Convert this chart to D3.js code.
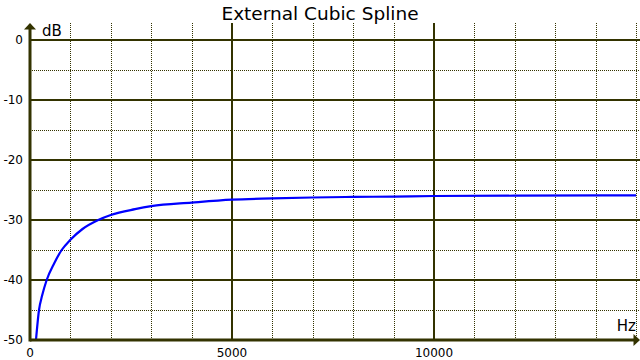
<!DOCTYPE html>
<html>
<head>
<meta charset="utf-8">
<script src="https://cdn.jsdelivr.net/npm/d3@7"></script>
<style>
html,body{margin:0;padding:0;background:#fff;}
svg{display:block;font-family:"DejaVu Sans",Verdana,sans-serif;}
</style>
</head>
<body>
<svg id="chart" width="640" height="360"></svg>
<script>
const title = "External Cubic Spline";
const xLabel = "Hz";
const yLabel = "dB";
const freqs = [148, 223, 300, 413, 600, 784, 1000, 1300, 1690, 2000, 2600, 3000, 4000, 5000, 6000, 7000, 8000, 9000, 10000, 12000, 15000];
const dbs   = [-50, -45, -42.6, -40, -37.2, -35, -33.3, -31.5, -30, -29.17, -28.2, -27.7, -27.1, -26.6, -26.4, -26.25, -26.15, -26.1, -26.0, -25.95, -25.9];
const xTicks = [0, 5000, 10000];
const xMinor = [1000, 2000, 3000, 4000, 6000, 7000, 8000, 9000, 11000, 12000, 13000, 14000, 15000];
const yTicks = [0, -10, -20, -30, -40, -50];
const yMinor = [-5, -15, -25, -35, -45];

const axisColor = "#333300";
const svg = d3.select("#chart");
const x = d3.scaleLinear().domain([0, 15000]).range([30, 636]);
const y = d3.scaleLinear().domain([-50, 0]).range([340, 40]);
const xEnd = 640, yTop = 23;

// minor grid
svg.append("g").selectAll("line").data(xMinor).join("line")
  .attr("x1", d => Math.round(x(d)) + 0.5).attr("x2", d => Math.round(x(d)) + 0.5)
  .attr("y1", yTop).attr("y2", y(-50))
  .attr("stroke", axisColor).attr("stroke-width", 1).attr("stroke-dasharray", "1,1");
svg.append("g").selectAll("line").data(yMinor).join("line")
  .attr("x1", x(0)).attr("x2", xEnd)
  .attr("y1", d => Math.round(y(d)) + 0.5).attr("y2", d => Math.round(y(d)) + 0.5)
  .attr("stroke", axisColor).attr("stroke-width", 1).attr("stroke-dasharray", "1,1");
// major grid
svg.append("g").selectAll("line").data(xTicks.filter(d => d > 0)).join("line")
  .attr("x1", d => Math.round(x(d))).attr("x2", d => Math.round(x(d)))
  .attr("y1", yTop).attr("y2", y(-50))
  .attr("stroke", axisColor).attr("stroke-width", 2);
svg.append("g").selectAll("line").data(yTicks.filter(d => d > -50)).join("line")
  .attr("x1", x(0)).attr("x2", xEnd)
  .attr("y1", d => Math.round(y(d))).attr("y2", d => Math.round(y(d)))
  .attr("stroke", axisColor).attr("stroke-width", 2);

// curve
const pts = freqs.map((f, i) => [x(f), y(dbs[i])]);
svg.append("path")
  .attr("d", d3.line().curve(d3.curveMonotoneX)(pts))
  .attr("fill", "none").attr("stroke", "#0000ff").attr("stroke-width", 2.2);

// axes
svg.append("line").attr("x1", x(0)).attr("x2", xEnd - 4).attr("y1", y(-50)).attr("y2", y(-50))
  .attr("stroke", axisColor).attr("stroke-width", 3);
svg.append("line").attr("x1", x(0)).attr("x2", x(0)).attr("y1", y(-50) + 1.5).attr("y2", yTop + 4)
  .attr("stroke", axisColor).attr("stroke-width", 3);
svg.append("path").attr("d", `M${x(0)},${yTop} L${x(0) - 6},${yTop + 6.5} L${x(0) + 6},${yTop + 6.5} Z`).attr("fill", axisColor);
svg.append("path").attr("d", `M${xEnd},${y(-50)} L${xEnd - 6.5},${y(-50) - 6} L${xEnd - 6.5},${y(-50) + 6} Z`).attr("fill", axisColor);

// tick labels
svg.append("g").selectAll("text").data(yTicks).join("text")
  .attr("x", 23).attr("y", d => y(d)).attr("dy", "0.36em")
  .attr("text-anchor", "end").attr("font-size", 12).attr("fill", "#000")
  .text(d => d);
svg.append("g").selectAll("text").data(xTicks).join("text")
  .attr("x", d => x(d)).attr("y", 357)
  .attr("text-anchor", "middle").attr("font-size", 12).attr("fill", "#000")
  .text(d => d);

// labels
svg.append("text").attr("x", 42).attr("y", 36).attr("font-size", 15).attr("fill", "#000").text(yLabel);
svg.append("text").attr("x", 636).attr("y", 331).attr("text-anchor", "end").attr("font-size", 15).attr("fill", "#000").text(xLabel);
svg.append("text").attr("x", 320).attr("y", 20).attr("text-anchor", "middle").attr("font-size", 18.5).attr("fill", "#000").text(title);
</script>
</body>
</html>
